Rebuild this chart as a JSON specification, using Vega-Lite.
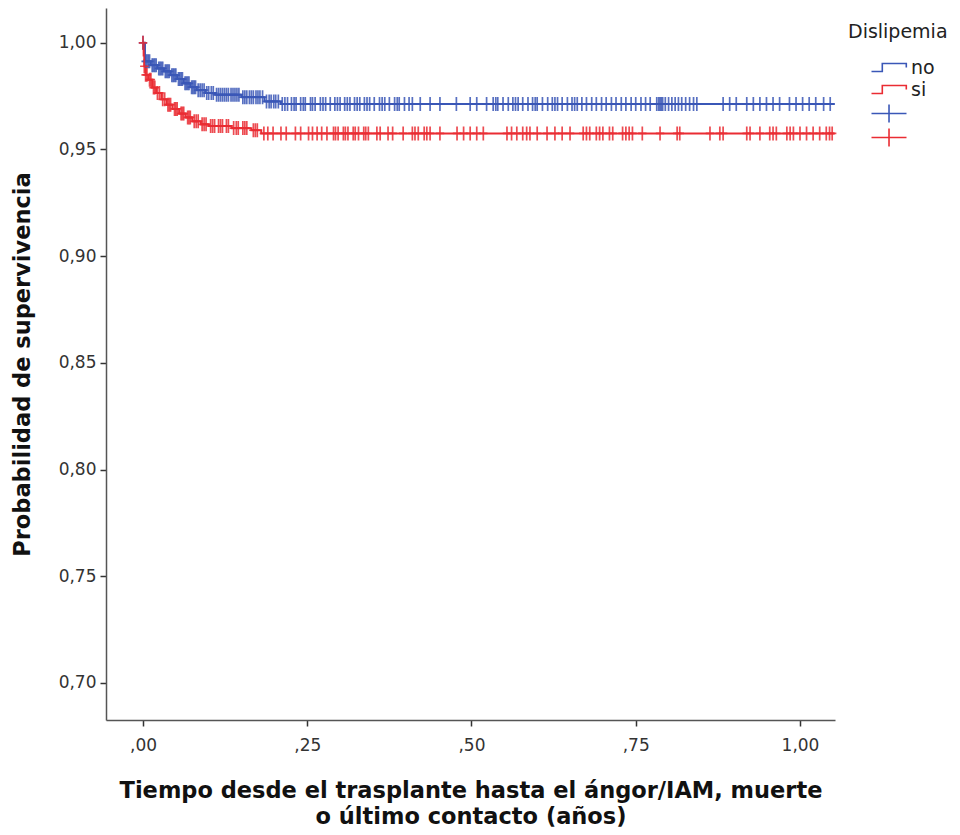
{
  "$schema": "https://vega.github.io/schema/vega-lite/v6.json",
  "width": 729,
  "height": 712,
  "autosize": {"type": "none"},
  "padding": {"left": 106, "top": 8, "right": 125, "bottom": 115},
  "background": "white",
  "config": {
    "view": {"stroke": null},
    "axis": {"grid": false, "domainColor": "#555", "domainWidth": 1.5, "tickColor": "#333", "tickWidth": 1.5, "tickSize": 6, "labelFont": "DejaVu Sans", "labelFontSize": 17, "labelColor": "#333", "titleFont": "DejaVu Sans", "titleFontWeight": "bold", "titleFontSize": 22.5, "titleColor": "#111"},
    "legend": {"padding": 0, "titleFont": "DejaVu Sans", "titleFontWeight": "normal", "titleFontSize": 19, "titleColor": "#222", "labelFont": "DejaVu Sans", "labelFontSize": 19, "labelColor": "#222"}
  },
  "datasets": {
    "curva": [
      {"grupo": "no", "t": 0, "s": 1.0},
      {"grupo": "no", "t": 0.003, "s": 0.9913},
      {"grupo": "no", "t": 0.012, "s": 0.9895},
      {"grupo": "no", "t": 0.022, "s": 0.988},
      {"grupo": "no", "t": 0.032, "s": 0.9866},
      {"grupo": "no", "t": 0.042, "s": 0.9848},
      {"grupo": "no", "t": 0.052, "s": 0.983},
      {"grupo": "no", "t": 0.062, "s": 0.981},
      {"grupo": "no", "t": 0.072, "s": 0.9792},
      {"grupo": "no", "t": 0.082, "s": 0.9778},
      {"grupo": "no", "t": 0.095, "s": 0.9765},
      {"grupo": "no", "t": 0.11, "s": 0.9757},
      {"grupo": "no", "t": 0.15, "s": 0.9745},
      {"grupo": "no", "t": 0.185, "s": 0.9725},
      {"grupo": "no", "t": 0.21, "s": 0.9713},
      {"grupo": "no", "t": 1.053, "s": 0.9713},
      {"grupo": "si", "t": 0, "s": 1.0},
      {"grupo": "si", "t": 0.001, "s": 0.994},
      {"grupo": "si", "t": 0.002, "s": 0.989},
      {"grupo": "si", "t": 0.004, "s": 0.985},
      {"grupo": "si", "t": 0.008, "s": 0.9827},
      {"grupo": "si", "t": 0.014, "s": 0.979},
      {"grupo": "si", "t": 0.02, "s": 0.9765},
      {"grupo": "si", "t": 0.028, "s": 0.9735},
      {"grupo": "si", "t": 0.036, "s": 0.971},
      {"grupo": "si", "t": 0.045, "s": 0.969},
      {"grupo": "si", "t": 0.055, "s": 0.9668},
      {"grupo": "si", "t": 0.065, "s": 0.965},
      {"grupo": "si", "t": 0.075, "s": 0.9632},
      {"grupo": "si", "t": 0.088, "s": 0.9618},
      {"grupo": "si", "t": 0.1, "s": 0.961},
      {"grupo": "si", "t": 0.135, "s": 0.96},
      {"grupo": "si", "t": 0.165, "s": 0.959},
      {"grupo": "si", "t": 0.18, "s": 0.9575},
      {"grupo": "si", "t": 1.053, "s": 0.9575}
    ],
    "cens": [
      {"grupo": "no", "t": 0.0, "s": 1.0},
      {"grupo": "no", "t": 0.004, "s": 0.9913},
      {"grupo": "no", "t": 0.006, "s": 0.9913},
      {"grupo": "no", "t": 0.008, "s": 0.9913},
      {"grupo": "no", "t": 0.01, "s": 0.9913},
      {"grupo": "no", "t": 0.014, "s": 0.9895},
      {"grupo": "no", "t": 0.016, "s": 0.9895},
      {"grupo": "no", "t": 0.018, "s": 0.9895},
      {"grupo": "no", "t": 0.02, "s": 0.9895},
      {"grupo": "no", "t": 0.024, "s": 0.988},
      {"grupo": "no", "t": 0.026, "s": 0.988},
      {"grupo": "no", "t": 0.028, "s": 0.988},
      {"grupo": "no", "t": 0.03, "s": 0.988},
      {"grupo": "no", "t": 0.034, "s": 0.9866},
      {"grupo": "no", "t": 0.036, "s": 0.9866},
      {"grupo": "no", "t": 0.038, "s": 0.9866},
      {"grupo": "no", "t": 0.04, "s": 0.9866},
      {"grupo": "no", "t": 0.044, "s": 0.9848},
      {"grupo": "no", "t": 0.046, "s": 0.9848},
      {"grupo": "no", "t": 0.048, "s": 0.9848},
      {"grupo": "no", "t": 0.05, "s": 0.9848},
      {"grupo": "no", "t": 0.054, "s": 0.983},
      {"grupo": "no", "t": 0.056, "s": 0.983},
      {"grupo": "no", "t": 0.058, "s": 0.983},
      {"grupo": "no", "t": 0.06, "s": 0.983},
      {"grupo": "no", "t": 0.064, "s": 0.981},
      {"grupo": "no", "t": 0.066, "s": 0.981},
      {"grupo": "no", "t": 0.068, "s": 0.981},
      {"grupo": "no", "t": 0.07, "s": 0.981},
      {"grupo": "no", "t": 0.074, "s": 0.9792},
      {"grupo": "no", "t": 0.076, "s": 0.9792},
      {"grupo": "no", "t": 0.078, "s": 0.9792},
      {"grupo": "no", "t": 0.08, "s": 0.9792},
      {"grupo": "no", "t": 0.084, "s": 0.9778},
      {"grupo": "no", "t": 0.087, "s": 0.9778},
      {"grupo": "no", "t": 0.09, "s": 0.9778},
      {"grupo": "no", "t": 0.093, "s": 0.9778},
      {"grupo": "no", "t": 0.097, "s": 0.9765},
      {"grupo": "no", "t": 0.1, "s": 0.9765},
      {"grupo": "no", "t": 0.104, "s": 0.9765},
      {"grupo": "no", "t": 0.107, "s": 0.9765},
      {"grupo": "no", "t": 0.112, "s": 0.9757},
      {"grupo": "no", "t": 0.115, "s": 0.9757},
      {"grupo": "no", "t": 0.118, "s": 0.9757},
      {"grupo": "no", "t": 0.121, "s": 0.9757},
      {"grupo": "no", "t": 0.124, "s": 0.9757},
      {"grupo": "no", "t": 0.127, "s": 0.9757},
      {"grupo": "no", "t": 0.13, "s": 0.9757},
      {"grupo": "no", "t": 0.134, "s": 0.9757},
      {"grupo": "no", "t": 0.137, "s": 0.9757},
      {"grupo": "no", "t": 0.14, "s": 0.9757},
      {"grupo": "no", "t": 0.143, "s": 0.9757},
      {"grupo": "no", "t": 0.146, "s": 0.9757},
      {"grupo": "no", "t": 0.152, "s": 0.9745},
      {"grupo": "no", "t": 0.155, "s": 0.9745},
      {"grupo": "no", "t": 0.158, "s": 0.9745},
      {"grupo": "no", "t": 0.162, "s": 0.9745},
      {"grupo": "no", "t": 0.165, "s": 0.9745},
      {"grupo": "no", "t": 0.168, "s": 0.9745},
      {"grupo": "no", "t": 0.172, "s": 0.9745},
      {"grupo": "no", "t": 0.175, "s": 0.9745},
      {"grupo": "no", "t": 0.178, "s": 0.9745},
      {"grupo": "no", "t": 0.182, "s": 0.9745},
      {"grupo": "no", "t": 0.188, "s": 0.9725},
      {"grupo": "no", "t": 0.192, "s": 0.9725},
      {"grupo": "no", "t": 0.195, "s": 0.9725},
      {"grupo": "no", "t": 0.199, "s": 0.9725},
      {"grupo": "no", "t": 0.202, "s": 0.9725},
      {"grupo": "no", "t": 0.206, "s": 0.9725},
      {"grupo": "no", "t": 0.212, "s": 0.9713},
      {"grupo": "no", "t": 0.216, "s": 0.9713},
      {"grupo": "no", "t": 0.22, "s": 0.9713},
      {"grupo": "no", "t": 0.226, "s": 0.9713},
      {"grupo": "no", "t": 0.23, "s": 0.9713},
      {"grupo": "no", "t": 0.233, "s": 0.9713},
      {"grupo": "no", "t": 0.24, "s": 0.9713},
      {"grupo": "no", "t": 0.244, "s": 0.9713},
      {"grupo": "no", "t": 0.247, "s": 0.9713},
      {"grupo": "no", "t": 0.255, "s": 0.9713},
      {"grupo": "no", "t": 0.258, "s": 0.9713},
      {"grupo": "no", "t": 0.262, "s": 0.9713},
      {"grupo": "no", "t": 0.27, "s": 0.9713},
      {"grupo": "no", "t": 0.274, "s": 0.9713},
      {"grupo": "no", "t": 0.278, "s": 0.9713},
      {"grupo": "no", "t": 0.285, "s": 0.9713},
      {"grupo": "no", "t": 0.292, "s": 0.9713},
      {"grupo": "no", "t": 0.296, "s": 0.9713},
      {"grupo": "no", "t": 0.3, "s": 0.9713},
      {"grupo": "no", "t": 0.307, "s": 0.9713},
      {"grupo": "no", "t": 0.311, "s": 0.9713},
      {"grupo": "no", "t": 0.315, "s": 0.9713},
      {"grupo": "no", "t": 0.322, "s": 0.9713},
      {"grupo": "no", "t": 0.326, "s": 0.9713},
      {"grupo": "no", "t": 0.33, "s": 0.9713},
      {"grupo": "no", "t": 0.337, "s": 0.9713},
      {"grupo": "no", "t": 0.341, "s": 0.9713},
      {"grupo": "no", "t": 0.345, "s": 0.9713},
      {"grupo": "no", "t": 0.352, "s": 0.9713},
      {"grupo": "no", "t": 0.36, "s": 0.9713},
      {"grupo": "no", "t": 0.364, "s": 0.9713},
      {"grupo": "no", "t": 0.368, "s": 0.9713},
      {"grupo": "no", "t": 0.375, "s": 0.9713},
      {"grupo": "no", "t": 0.383, "s": 0.9713},
      {"grupo": "no", "t": 0.387, "s": 0.9713},
      {"grupo": "no", "t": 0.39, "s": 0.9713},
      {"grupo": "no", "t": 0.398, "s": 0.9713},
      {"grupo": "no", "t": 0.405, "s": 0.9713},
      {"grupo": "no", "t": 0.41, "s": 0.9713},
      {"grupo": "no", "t": 0.422, "s": 0.9713},
      {"grupo": "no", "t": 0.437, "s": 0.9713},
      {"grupo": "no", "t": 0.452, "s": 0.9713},
      {"grupo": "no", "t": 0.477, "s": 0.9713},
      {"grupo": "no", "t": 0.498, "s": 0.9713},
      {"grupo": "no", "t": 0.508, "s": 0.9713},
      {"grupo": "no", "t": 0.523, "s": 0.9713},
      {"grupo": "no", "t": 0.533, "s": 0.9713},
      {"grupo": "no", "t": 0.537, "s": 0.9713},
      {"grupo": "no", "t": 0.54, "s": 0.9713},
      {"grupo": "no", "t": 0.548, "s": 0.9713},
      {"grupo": "no", "t": 0.556, "s": 0.9713},
      {"grupo": "no", "t": 0.563, "s": 0.9713},
      {"grupo": "no", "t": 0.567, "s": 0.9713},
      {"grupo": "no", "t": 0.571, "s": 0.9713},
      {"grupo": "no", "t": 0.578, "s": 0.9713},
      {"grupo": "no", "t": 0.586, "s": 0.9713},
      {"grupo": "no", "t": 0.593, "s": 0.9713},
      {"grupo": "no", "t": 0.597, "s": 0.9713},
      {"grupo": "no", "t": 0.6, "s": 0.9713},
      {"grupo": "no", "t": 0.608, "s": 0.9713},
      {"grupo": "no", "t": 0.616, "s": 0.9713},
      {"grupo": "no", "t": 0.623, "s": 0.9713},
      {"grupo": "no", "t": 0.627, "s": 0.9713},
      {"grupo": "no", "t": 0.631, "s": 0.9713},
      {"grupo": "no", "t": 0.638, "s": 0.9713},
      {"grupo": "no", "t": 0.646, "s": 0.9713},
      {"grupo": "no", "t": 0.653, "s": 0.9713},
      {"grupo": "no", "t": 0.657, "s": 0.9713},
      {"grupo": "no", "t": 0.661, "s": 0.9713},
      {"grupo": "no", "t": 0.668, "s": 0.9713},
      {"grupo": "no", "t": 0.675, "s": 0.9713},
      {"grupo": "no", "t": 0.683, "s": 0.9713},
      {"grupo": "no", "t": 0.69, "s": 0.9713},
      {"grupo": "no", "t": 0.698, "s": 0.9713},
      {"grupo": "no", "t": 0.705, "s": 0.9713},
      {"grupo": "no", "t": 0.713, "s": 0.9713},
      {"grupo": "no", "t": 0.72, "s": 0.9713},
      {"grupo": "no", "t": 0.728, "s": 0.9713},
      {"grupo": "no", "t": 0.735, "s": 0.9713},
      {"grupo": "no", "t": 0.743, "s": 0.9713},
      {"grupo": "no", "t": 0.75, "s": 0.9713},
      {"grupo": "no", "t": 0.758, "s": 0.9713},
      {"grupo": "no", "t": 0.765, "s": 0.9713},
      {"grupo": "no", "t": 0.772, "s": 0.9713},
      {"grupo": "no", "t": 0.782, "s": 0.9713},
      {"grupo": "no", "t": 0.785, "s": 0.9713},
      {"grupo": "no", "t": 0.787, "s": 0.9713},
      {"grupo": "no", "t": 0.789, "s": 0.9713},
      {"grupo": "no", "t": 0.791, "s": 0.9713},
      {"grupo": "no", "t": 0.795, "s": 0.9713},
      {"grupo": "no", "t": 0.8, "s": 0.9713},
      {"grupo": "no", "t": 0.805, "s": 0.9713},
      {"grupo": "no", "t": 0.81, "s": 0.9713},
      {"grupo": "no", "t": 0.815, "s": 0.9713},
      {"grupo": "no", "t": 0.82, "s": 0.9713},
      {"grupo": "no", "t": 0.826, "s": 0.9713},
      {"grupo": "no", "t": 0.832, "s": 0.9713},
      {"grupo": "no", "t": 0.838, "s": 0.9713},
      {"grupo": "no", "t": 0.843, "s": 0.9713},
      {"grupo": "no", "t": 0.883, "s": 0.9713},
      {"grupo": "no", "t": 0.893, "s": 0.9713},
      {"grupo": "no", "t": 0.903, "s": 0.9713},
      {"grupo": "no", "t": 0.919, "s": 0.9713},
      {"grupo": "no", "t": 0.929, "s": 0.9713},
      {"grupo": "no", "t": 0.939, "s": 0.9713},
      {"grupo": "no", "t": 0.949, "s": 0.9713},
      {"grupo": "no", "t": 0.959, "s": 0.9713},
      {"grupo": "no", "t": 0.969, "s": 0.9713},
      {"grupo": "no", "t": 0.984, "s": 0.9713},
      {"grupo": "no", "t": 0.994, "s": 0.9713},
      {"grupo": "no", "t": 1.004, "s": 0.9713},
      {"grupo": "no", "t": 1.014, "s": 0.9713},
      {"grupo": "no", "t": 1.024, "s": 0.9713},
      {"grupo": "no", "t": 1.036, "s": 0.9713},
      {"grupo": "no", "t": 1.046, "s": 0.9713},
      {"grupo": "si", "t": 0.0, "s": 1.0},
      {"grupo": "si", "t": 0.002, "s": 0.989},
      {"grupo": "si", "t": 0.004, "s": 0.985},
      {"grupo": "si", "t": 0.006, "s": 0.985},
      {"grupo": "si", "t": 0.01, "s": 0.9827},
      {"grupo": "si", "t": 0.012, "s": 0.9827},
      {"grupo": "si", "t": 0.016, "s": 0.979},
      {"grupo": "si", "t": 0.018, "s": 0.979},
      {"grupo": "si", "t": 0.022, "s": 0.9765},
      {"grupo": "si", "t": 0.025, "s": 0.9765},
      {"grupo": "si", "t": 0.03, "s": 0.9735},
      {"grupo": "si", "t": 0.033, "s": 0.9735},
      {"grupo": "si", "t": 0.038, "s": 0.971},
      {"grupo": "si", "t": 0.04, "s": 0.971},
      {"grupo": "si", "t": 0.042, "s": 0.971},
      {"grupo": "si", "t": 0.048, "s": 0.969},
      {"grupo": "si", "t": 0.05, "s": 0.969},
      {"grupo": "si", "t": 0.052, "s": 0.969},
      {"grupo": "si", "t": 0.058, "s": 0.9668},
      {"grupo": "si", "t": 0.06, "s": 0.9668},
      {"grupo": "si", "t": 0.062, "s": 0.9668},
      {"grupo": "si", "t": 0.068, "s": 0.965},
      {"grupo": "si", "t": 0.07, "s": 0.965},
      {"grupo": "si", "t": 0.072, "s": 0.965},
      {"grupo": "si", "t": 0.078, "s": 0.9632},
      {"grupo": "si", "t": 0.081, "s": 0.9632},
      {"grupo": "si", "t": 0.084, "s": 0.9632},
      {"grupo": "si", "t": 0.09, "s": 0.9618},
      {"grupo": "si", "t": 0.093, "s": 0.9618},
      {"grupo": "si", "t": 0.096, "s": 0.9618},
      {"grupo": "si", "t": 0.103, "s": 0.961},
      {"grupo": "si", "t": 0.106, "s": 0.961},
      {"grupo": "si", "t": 0.109, "s": 0.961},
      {"grupo": "si", "t": 0.115, "s": 0.961},
      {"grupo": "si", "t": 0.118, "s": 0.961},
      {"grupo": "si", "t": 0.121, "s": 0.961},
      {"grupo": "si", "t": 0.127, "s": 0.961},
      {"grupo": "si", "t": 0.13, "s": 0.961},
      {"grupo": "si", "t": 0.138, "s": 0.96},
      {"grupo": "si", "t": 0.142, "s": 0.96},
      {"grupo": "si", "t": 0.145, "s": 0.96},
      {"grupo": "si", "t": 0.152, "s": 0.96},
      {"grupo": "si", "t": 0.155, "s": 0.96},
      {"grupo": "si", "t": 0.158, "s": 0.96},
      {"grupo": "si", "t": 0.168, "s": 0.959},
      {"grupo": "si", "t": 0.171, "s": 0.959},
      {"grupo": "si", "t": 0.174, "s": 0.959},
      {"grupo": "si", "t": 0.184, "s": 0.9575},
      {"grupo": "si", "t": 0.19, "s": 0.9575},
      {"grupo": "si", "t": 0.198, "s": 0.9575},
      {"grupo": "si", "t": 0.21, "s": 0.9575},
      {"grupo": "si", "t": 0.218, "s": 0.9575},
      {"grupo": "si", "t": 0.232, "s": 0.9575},
      {"grupo": "si", "t": 0.24, "s": 0.9575},
      {"grupo": "si", "t": 0.252, "s": 0.9575},
      {"grupo": "si", "t": 0.258, "s": 0.9575},
      {"grupo": "si", "t": 0.265, "s": 0.9575},
      {"grupo": "si", "t": 0.272, "s": 0.9575},
      {"grupo": "si", "t": 0.28, "s": 0.9575},
      {"grupo": "si", "t": 0.29, "s": 0.9575},
      {"grupo": "si", "t": 0.293, "s": 0.9575},
      {"grupo": "si", "t": 0.297, "s": 0.9575},
      {"grupo": "si", "t": 0.305, "s": 0.9575},
      {"grupo": "si", "t": 0.308, "s": 0.9575},
      {"grupo": "si", "t": 0.312, "s": 0.9575},
      {"grupo": "si", "t": 0.32, "s": 0.9575},
      {"grupo": "si", "t": 0.323, "s": 0.9575},
      {"grupo": "si", "t": 0.328, "s": 0.9575},
      {"grupo": "si", "t": 0.336, "s": 0.9575},
      {"grupo": "si", "t": 0.339, "s": 0.9575},
      {"grupo": "si", "t": 0.343, "s": 0.9575},
      {"grupo": "si", "t": 0.356, "s": 0.9575},
      {"grupo": "si", "t": 0.361, "s": 0.9575},
      {"grupo": "si", "t": 0.373, "s": 0.9575},
      {"grupo": "si", "t": 0.38, "s": 0.9575},
      {"grupo": "si", "t": 0.396, "s": 0.9575},
      {"grupo": "si", "t": 0.41, "s": 0.9575},
      {"grupo": "si", "t": 0.414, "s": 0.9575},
      {"grupo": "si", "t": 0.419, "s": 0.9575},
      {"grupo": "si", "t": 0.428, "s": 0.9575},
      {"grupo": "si", "t": 0.432, "s": 0.9575},
      {"grupo": "si", "t": 0.437, "s": 0.9575},
      {"grupo": "si", "t": 0.452, "s": 0.9575},
      {"grupo": "si", "t": 0.478, "s": 0.9575},
      {"grupo": "si", "t": 0.488, "s": 0.9575},
      {"grupo": "si", "t": 0.498, "s": 0.9575},
      {"grupo": "si", "t": 0.508, "s": 0.9575},
      {"grupo": "si", "t": 0.518, "s": 0.9575},
      {"grupo": "si", "t": 0.554, "s": 0.9575},
      {"grupo": "si", "t": 0.561, "s": 0.9575},
      {"grupo": "si", "t": 0.569, "s": 0.9575},
      {"grupo": "si", "t": 0.578, "s": 0.9575},
      {"grupo": "si", "t": 0.584, "s": 0.9575},
      {"grupo": "si", "t": 0.589, "s": 0.9575},
      {"grupo": "si", "t": 0.6, "s": 0.9575},
      {"grupo": "si", "t": 0.615, "s": 0.9575},
      {"grupo": "si", "t": 0.627, "s": 0.9575},
      {"grupo": "si", "t": 0.638, "s": 0.9575},
      {"grupo": "si", "t": 0.65, "s": 0.9575},
      {"grupo": "si", "t": 0.67, "s": 0.9575},
      {"grupo": "si", "t": 0.675, "s": 0.9575},
      {"grupo": "si", "t": 0.68, "s": 0.9575},
      {"grupo": "si", "t": 0.69, "s": 0.9575},
      {"grupo": "si", "t": 0.695, "s": 0.9575},
      {"grupo": "si", "t": 0.7, "s": 0.9575},
      {"grupo": "si", "t": 0.71, "s": 0.9575},
      {"grupo": "si", "t": 0.715, "s": 0.9575},
      {"grupo": "si", "t": 0.73, "s": 0.9575},
      {"grupo": "si", "t": 0.735, "s": 0.9575},
      {"grupo": "si", "t": 0.74, "s": 0.9575},
      {"grupo": "si", "t": 0.745, "s": 0.9575},
      {"grupo": "si", "t": 0.76, "s": 0.9575},
      {"grupo": "si", "t": 0.787, "s": 0.9575},
      {"grupo": "si", "t": 0.813, "s": 0.9575},
      {"grupo": "si", "t": 0.817, "s": 0.9575},
      {"grupo": "si", "t": 0.863, "s": 0.9575},
      {"grupo": "si", "t": 0.878, "s": 0.9575},
      {"grupo": "si", "t": 0.883, "s": 0.9575},
      {"grupo": "si", "t": 0.919, "s": 0.9575},
      {"grupo": "si", "t": 0.924, "s": 0.9575},
      {"grupo": "si", "t": 0.939, "s": 0.9575},
      {"grupo": "si", "t": 0.954, "s": 0.9575},
      {"grupo": "si", "t": 0.959, "s": 0.9575},
      {"grupo": "si", "t": 0.964, "s": 0.9575},
      {"grupo": "si", "t": 0.98, "s": 0.9575},
      {"grupo": "si", "t": 0.985, "s": 0.9575},
      {"grupo": "si", "t": 0.99, "s": 0.9575},
      {"grupo": "si", "t": 1.0, "s": 0.9575},
      {"grupo": "si", "t": 1.01, "s": 0.9575},
      {"grupo": "si", "t": 1.02, "s": 0.9575},
      {"grupo": "si", "t": 1.03, "s": 0.9575},
      {"grupo": "si", "t": 1.04, "s": 0.9575},
      {"grupo": "si", "t": 1.045, "s": 0.9575},
      {"grupo": "si", "t": 1.049, "s": 0.9575}
    ]
  },
  "encoding": {
    "x": {
      "field": "t", "type": "quantitative",
      "scale": {"domain": [-0.0563, 1.0533], "nice": false, "zero": false},
      "axis": {
        "values": [0, 0.25, 0.5, 0.75, 1],
        "labelExpr": "datum.value == 1 ? '1,00' : replace(format(datum.value, '.2f'), '0.', ',')",
        "labelPadding": 11,
        "title": ["Tiempo desde el trasplante hasta el ángor/IAM, muerte", "o último contacto (años)"],
        "titlePadding": 26,
        "titleLineHeight": 26
      }
    },
    "y": {
      "field": "s", "type": "quantitative",
      "scale": {"domain": [0.6826, 1.0163], "nice": false, "zero": false},
      "axis": {
        "values": [0.7, 0.75, 0.8, 0.85, 0.9, 0.95, 1.0],
        "labelExpr": "replace(format(datum.value, '.2f'), '.', ',')",
        "labelPadding": 4,
        "title": "Probabilidad de supervivencia",
        "titlePadding": 24
      }
    }
  },
  "layer": [
    {
      "data": {"name": "curva"},
      "mark": {"type": "line", "interpolate": "step-after", "strokeWidth": 2},
      "encoding": {
        "color": {
          "field": "grupo", "type": "nominal",
          "scale": {"domain": ["no", "si"], "range": ["#3a57b7", "#ea2c33"]},
          "legend": {
            "title": "Dislipemia",
            "orient": "none",
            "legendX": 742,
            "legendY": 15,
            "titlePadding": 16,
            "symbolType": "M1.75,0.5H3.1V-0.5H6.1V0",
            "symbolSize": 256,
            "symbolStrokeWidth": 1.6,
            "labelOffset": 44,
            "rowPadding": 2
          }
        }
      }
    },
    {
      "data": {"name": "cens"},
      "mark": {"type": "point", "shape": "M-0.6,0H0.6M0,-1V1", "filled": false, "size": 196, "strokeWidth": 1.7, "opacity": 0.85},
      "encoding": {
        "color": {
          "field": "grupo", "type": "nominal",
          "scale": {"domain": ["no", "si"], "range": ["#3a57b7", "#ea2c33"]},
          "legend": {
            "title": null,
            "orient": "none",
            "legendX": 742,
            "legendY": 96,
            "symbolType": "M1.75,0H6.125M3.94,-1.125V1.125",
            "symbolSize": 256,
            "symbolStrokeWidth": 1.6,
            "symbolOpacity": 1,
            "labelExpr": "''",
            "labelOffset": 44,
            "rowPadding": -1
          }
        }
      }
    }
  ],
  "resolve": {"scale": {"color": "independent"}}
}
